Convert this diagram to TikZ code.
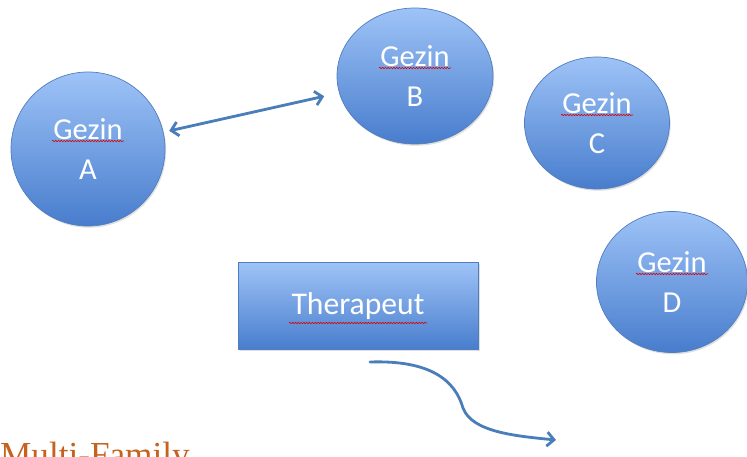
\documentclass[tikz,border=0pt]{standalone}
\usepackage{fontspec}
\setmainfont{Carlito}
\newfontfamily\titlefont{Liberation Serif}
\usepackage{tikz}
\usetikzlibrary{arrows.meta,positioning,shapes.geometric,shadows,decorations.pathmorphing}
\definecolor{boxtop}{RGB}{158,195,247}
\definecolor{boxbottom}{RGB}{72,125,205}
\definecolor{boxline}{RGB}{80,125,190}
\definecolor{arrowblue}{RGB}{74,126,187}
\definecolor{titleorange}{RGB}{196,98,30}

\begin{document}
\begin{tikzpicture}[x=0.03cm,y=-0.03cm,
      family_node/.style={
         ellipse,
         draw=boxline,
         line width=0.6pt,
         top color=boxtop,
         bottom color=boxbottom,
         drop shadow={opacity=0.25,shadow xshift=1pt,shadow yshift=-1.5pt},
         text=white,
         align=center,
         inner sep=0pt,
         font=\fontsize{26}{34}\selectfont},
       therapist_node/.style={
         rectangle,
         draw=boxline,
         line width=0.6pt,
         top color=boxtop,
         bottom color=boxbottom,
         drop shadow={opacity=0.25,shadow xshift=1.5pt,shadow yshift=-1.5pt},
         text=white,
         minimum width=240*0.03cm,
         minimum height=87*0.03cm,
         font=\fontsize{27}{30}\selectfont},
       arrow_blue/.style={
        line width=2.4pt,
        draw=arrowblue,
        line cap=round,
        },
       spell_line/.style={
        draw=red!85!black,
        line width=0.5pt,
        decorate,
        decoration={snake,amplitude=0.6pt,segment length=2.4pt},
        }
]
      \useasboundingbox (0,0) rectangle (747,457);

      %families
      \node[family_node,minimum width=154*0.03cm,minimum height=154*0.03cm] (ga) at (88,149) {Gezin\\A};
      \node[family_node,minimum width=156*0.03cm,minimum height=136*0.03cm] (gb) at (415,76) {Gezin\\B};
      \node[family_node,minimum width=145*0.03cm,minimum height=132*0.03cm] (gc) at (597,123) {Gezin\\C};
      \node[family_node,minimum width=151*0.03cm,minimum height=141*0.03cm] (gd) at (672,282) {Gezin\\D};

      %therapist
      \node[therapist_node] (th) at (358,306) {Therapeut};

      %spell check marks
      \foreach \n in {ga,gb,gc,gd}
        \draw[spell_line] ([shift={(-36,-8)}]\n.center) -- ([shift={(36,-8)}]\n.center);
      \draw[spell_line] ([shift={(-69,17)}]th.center) -- ([shift={(69,17)}]th.center);

      %connectors
      \draw[arrow_blue,{Straight Barb[length=6pt,width=12pt]}-{Straight Barb[length=6pt,width=12pt]},
            shorten <=5pt,shorten >=13pt] (ga) -- (gb);

      \coordinate (cs) at (370,362);
      \coordinate (cm) at (463,408);
      \coordinate (ce) at (556,440);
      \draw[arrow_blue,-{Straight Barb[length=6pt,width=12pt]}]
        (cs) .. controls (430,360) and (455,380) .. (cm)
             .. controls (472,432) and (515,436) .. (ce);

      %title
      \node[anchor=base west,inner sep=0pt,text=titleorange,font=\titlefont\fontsize{30}{36}\selectfont] (title) at (0,466) {Multi-Family};

\end{tikzpicture}
\end{document}
